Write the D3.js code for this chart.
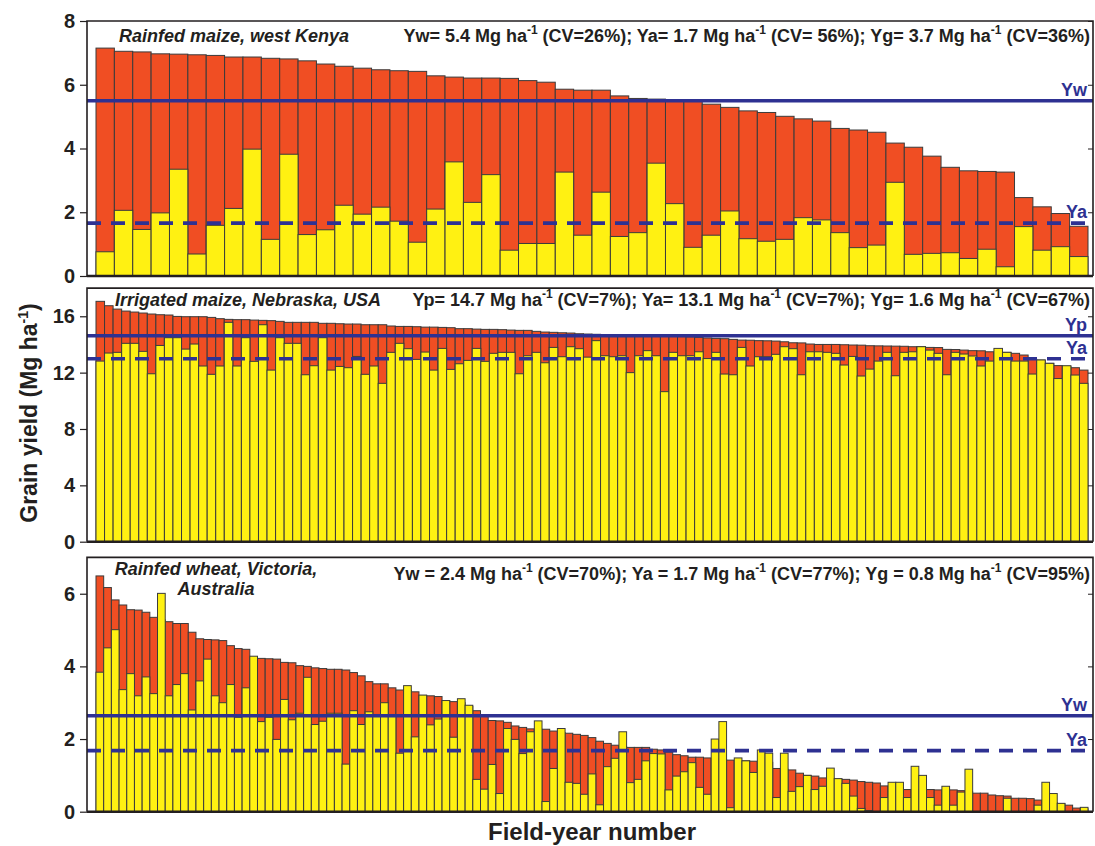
<!DOCTYPE html>
<html>
<head>
<meta charset="utf-8">
<script src="https://cdn.jsdelivr.net/npm/d3@7"></script>
<style>
  html, body { margin: 0; padding: 0; background: #fff; }
  svg text { font-family: "Liberation Sans", Arial, Helvetica, sans-serif; white-space: pre; }
</style>
</head>
<body>
<svg id="chart" width="1095" height="846"></svg>
<script>
// ---------- Rainfed maize, west Kenya ----------
const kenyaYw = [7.15,7.05,7.03,6.97,6.96,6.94,6.92,6.87,6.87,6.83,
  6.81,6.75,6.65,6.58,6.52,6.47,6.44,6.42,6.28,6.24,
  6.21,6.21,6.20,6.13,6.08,5.86,5.83,5.83,5.65,5.57,
  5.55,5.53,5.48,5.39,5.29,5.18,5.13,5.01,4.93,4.86,
  4.63,4.58,4.51,4.17,4.04,3.76,3.41,3.30,3.28,3.26,
  2.46,2.17,1.96,1.56];
const kenyaYa = [0.76,2.06,1.46,1.98,3.35,0.69,1.59,2.12,3.98,1.15,
  3.82,1.30,1.45,2.22,1.94,2.16,1.72,1.06,2.10,3.58,
  2.31,3.18,0.81,1.02,1.02,3.26,1.28,2.63,1.24,1.36,
  3.54,2.27,0.90,1.28,2.04,1.17,1.09,1.15,1.83,1.76,
  1.36,0.89,0.97,2.94,0.68,0.71,0.73,0.55,0.84,0.29,
  1.55,0.81,0.92,0.61];
const kenyaRef = [5.50, 1.66];           // mean Yw (solid), mean Ya (dashed)
const kenyaRefNames = ["Yw", "Ya"];
const kenyaTicks = [0, 2, 4, 6, 8];
const kenyaStats = ["Yw= 5.4 Mg ha", "-1", " (CV=26%); Ya= 1.7 Mg ha", "-1", " (CV= 56%); Yg= 3.7 Mg ha", "-1", " (CV=36%)"];

// ---------- Irrigated maize, Nebraska ----------
const nebraskaYp = [17.06,16.75,16.51,16.37,16.30,16.23,16.16,16.11,16.09,15.99,
  15.97,15.97,15.97,15.92,15.83,15.78,15.76,15.76,15.73,15.71,
  15.69,15.64,15.57,15.57,15.57,15.57,15.50,15.50,15.47,15.45,
  15.45,15.40,15.40,15.40,15.31,15.28,15.28,15.26,15.23,15.23,
  15.21,15.19,15.12,15.12,15.09,15.07,15.07,15.05,15.02,15.00,
  15.00,14.93,14.88,14.86,14.83,14.81,14.76,14.74,14.72,14.70,
  14.69,14.68,14.66,14.65,14.63,14.62,14.60,14.58,14.56,14.54,
  14.50,14.46,14.43,14.41,14.36,14.31,14.30,14.27,14.26,14.24,
  14.19,14.12,14.11,14.03,14.00,14.00,14.00,13.98,13.96,13.95,
  13.91,13.90,13.89,13.88,13.87,13.84,13.84,13.79,13.78,13.65,
  13.64,13.60,13.56,13.55,13.48,13.46,13.44,13.37,13.25,12.94,
  12.89,12.66,12.50,12.45,12.35,12.18];
const nebraskaYa = [12.82,13.39,13.44,14.08,14.08,13.51,11.92,13.93,14.48,14.48,
  13.67,14.03,12.47,11.88,12.47,15.57,12.47,14.48,12.80,15.40,
  12.18,14.48,14.08,14.08,11.85,12.49,14.48,12.18,12.44,12.35,
  13.15,11.88,12.47,11.24,13.44,14.08,13.70,12.94,13.46,12.18,
  13.72,12.23,12.63,12.87,13.72,12.80,13.37,13.44,13.44,11.92,
  13.20,13.44,12.70,13.79,13.13,13.84,13.70,13.10,14.27,13.20,
  13.13,13.20,12.00,13.20,13.56,13.20,10.65,13.44,13.20,13.20,
  13.48,13.00,13.44,11.90,11.85,13.79,12.47,13.13,13.13,13.30,
  13.84,13.70,11.85,13.48,13.48,13.44,13.37,12.54,13.15,11.76,
  12.25,12.82,13.44,11.78,13.44,13.48,13.84,13.60,13.37,11.85,
  13.44,13.32,13.18,12.47,12.82,13.72,13.44,12.82,12.82,11.90,
  12.90,12.66,11.58,12.49,11.83,11.24];
const nebraskaRef = [14.62, 12.99];      // mean Yp (solid), mean Ya (dashed)
const nebraskaRefNames = ["Yp", "Ya"];
const nebraskaTicks = [0, 4, 8, 12, 16];
const nebraskaStats = ["Yp= 14.7 Mg ha", "-1", " (CV=7%); Ya= 13.1 Mg ha", "-1", " (CV=7%); Yg= 1.6 Mg ha", "-1", " (CV=67%)"];

// ---------- Rainfed wheat, Victoria ----------
const victoriaYw = [6.49,6.17,5.83,5.69,5.56,5.55,5.49,5.35,5.28,5.23,
  5.18,5.18,4.94,4.76,4.74,4.73,4.71,4.57,4.49,4.47,
  4.25,4.22,4.21,4.20,4.11,4.10,4.02,4.00,3.96,3.94,
  3.92,3.92,3.90,3.83,3.74,3.58,3.52,3.52,3.41,3.35,
  3.34,3.30,3.20,3.19,3.17,3.05,3.03,3.00,2.90,2.78,
  2.64,2.51,2.50,2.46,2.36,2.32,2.28,2.27,2.27,2.22,
  2.18,2.16,2.13,2.10,2.04,1.94,1.88,1.83,1.80,1.77,
  1.77,1.77,1.72,1.70,1.64,1.57,1.54,1.50,1.50,1.48,
  1.46,1.44,1.42,1.41,1.40,1.39,1.38,1.36,1.19,1.17,
  1.15,1.06,1.00,0.98,0.93,0.92,0.90,0.89,0.87,0.83,
  0.81,0.79,0.71,0.70,0.66,0.61,0.61,0.61,0.61,0.60,
  0.60,0.60,0.58,0.55,0.51,0.51,0.46,0.44,0.43,0.37,
  0.37,0.36,0.32,0.30,0.25,0.22,0.18,0.10,0.08];
const victoriaYa = [3.84,4.51,5.01,3.36,3.80,3.19,3.71,3.25,6.01,3.19,
  3.50,3.80,2.80,3.60,4.20,3.19,3.00,3.50,2.60,3.41,
  4.28,2.48,2.60,1.99,3.09,2.53,2.71,3.70,2.40,2.49,
  2.71,2.71,1.31,2.78,2.40,2.75,2.64,3.00,2.65,1.61,
  3.47,2.06,3.21,2.39,2.55,3.06,2.05,3.11,2.93,0.89,
  0.62,1.30,0.50,2.29,1.99,1.60,2.20,2.50,0.28,1.19,
  2.29,0.81,0.78,0.48,1.04,0.19,1.24,1.47,2.20,0.80,
  0.89,1.40,1.60,1.59,0.60,0.98,1.10,1.35,0.67,0.48,
  2.00,2.48,0.11,1.48,1.40,1.08,1.70,1.61,0.39,1.61,
  0.56,0.69,1.00,0.61,0.70,1.20,0.91,0.78,0.43,0.09,
  0.03,0.00,0.39,0.81,0.81,0.39,1.25,1.00,0.39,0.18,
  0.70,0.18,0.54,1.17,0.00,0.00,0.00,0.00,0.37,0.00,
  0.00,0.00,0.18,0.81,0.50,0.23,0.00,0.00,0.12];
const victoriaRef = [2.64, 1.68];        // mean Yw (solid), mean Ya (dashed)
const victoriaRefNames = ["Yw", "Ya"];
const victoriaTicks = [0, 2, 4, 6];
const victoriaStats = ["Yw = 2.4 Mg ha", "-1", " (CV=70%); Ya = 1.7 Mg ha", "-1", " (CV=77%); Yg = 0.8 Mg ha", "-1", " (CV=95%)"];

// ---------- drawing ----------
const RED = "#F04E23", YELLOW = "#FFF112", BLUE = "#2E3192", INK = "#231F20";
const frameLeft = 87, frameRight = 1093, barLeft = 96, barRight = 1088;

const panels = [
  { upper: kenyaYw, lower: kenyaYa, ref: kenyaRef, refNames: kenyaRefNames, ticks: kenyaTicks, ymax: 8,
    top: 21, bottom: 276, stats: kenyaStats, statsY: 42,
    title: ["Rainfed maize, west Kenya"], titleX: 119, titleY: [42], titleAnchor: "start" },
  { upper: nebraskaYp, lower: nebraskaYa, ref: nebraskaRef, refNames: nebraskaRefNames, ticks: nebraskaTicks, ymax: 18,
    top: 288.1, bottom: 541.7, stats: nebraskaStats, statsY: 306,
    title: ["Irrigated maize, Nebraska, USA"], titleX: 115, titleY: [306], titleAnchor: "start" },
  { upper: victoriaYw, lower: victoriaYa, ref: victoriaRef, refNames: victoriaRefNames, ticks: victoriaTicks, ymax: 7,
    top: 557.4, bottom: 811.7, stats: victoriaStats, statsY: 580,
    title: ["Rainfed wheat, Victoria,", "Australia"], titleX: 216, titleY: [575, 595], titleAnchor: "middle" }
];

const svg = d3.select("#chart");

panels.forEach(p => {
  const g = svg.append("g");
  const n = p.upper.length;
  const x = d3.scaleBand().domain(d3.range(n)).range([barLeft, barRight]).paddingInner(0);
  const y = d3.scaleLinear().domain([0, p.ymax]).range([p.bottom, p.top]);

  // yield-gap bars (red) behind, actual yield bars (yellow) in front
  g.append("g").selectAll("rect").data(p.upper).join("rect")
    .attr("x", (d, i) => x(i)).attr("width", x.bandwidth())
    .attr("y", d => y(d)).attr("height", d => y(0) - y(d))
    .attr("fill", RED).attr("stroke", "#3b3b3b").attr("stroke-width", 1);
  g.append("g").selectAll("rect").data(p.lower).join("rect")
    .attr("display", d => d > 0 ? null : "none")
    .attr("x", (d, i) => x(i)).attr("width", x.bandwidth())
    .attr("y", d => y(d)).attr("height", d => y(0) - y(d))
    .attr("fill", YELLOW).attr("stroke", "#3b3b3b").attr("stroke-width", 1);

  // reference lines
  p.ref.forEach((v, k) => {
    g.append("line")
      .attr("x1", frameLeft).attr("x2", frameRight)
      .attr("y1", y(v)).attr("y2", y(v))
      .attr("stroke", BLUE).attr("stroke-width", 3.6)
      .attr("stroke-dasharray", k === 1 ? "14,10" : null);
    g.append("text")
      .attr("x", 1087).attr("y", y(v) - 5)
      .attr("text-anchor", "end")
      .attr("font-size", 18).attr("font-weight", "bold").attr("fill", BLUE)
      .text(p.refNames[k]);
  });

  // frame
  g.append("path")
    .attr("d", `M${frameLeft},${p.bottom}V${p.top}H${frameRight}V${p.bottom}`)
    .attr("fill", "none").attr("stroke", INK).attr("stroke-width", 1.6);

  // left axis with outward ticks
  const ax = g.append("g").attr("transform", `translate(${frameLeft},0)`)
    .call(d3.axisLeft(y).tickValues(p.ticks).tickSize(7).tickPadding(5).tickFormat(d3.format("d")));
  ax.select(".domain").remove();
  ax.selectAll("line").attr("stroke", INK).attr("stroke-width", 1.2);
  ax.selectAll("text").attr("font-size", 20).attr("font-weight", "bold").attr("fill", INK)
    .style("font-family", "'Liberation Sans', Arial, sans-serif");

  // right axis with inward ticks
  const ar = g.append("g").attr("transform", `translate(${frameRight},0)`)
    .call(d3.axisRight(y).tickValues(p.ticks).tickSize(-5).tickFormat(""));
  ar.select(".domain").remove();
  ar.selectAll("line").attr("stroke", INK).attr("stroke-width", 1);

  // baseline
  g.append("line").attr("x1", frameLeft).attr("x2", frameRight)
    .attr("y1", p.bottom).attr("y2", p.bottom)
    .attr("stroke", INK).attr("stroke-width", 2.6);

  // site title
  p.title.forEach((t, k) => {
    g.append("text").attr("x", p.titleX).attr("y", p.titleY[k])
      .attr("text-anchor", p.titleAnchor)
      .attr("font-size", 18).attr("font-weight", "bold").attr("font-style", "italic").attr("fill", INK)
      .text(t);
  });

  // summary statistics
  const st = g.append("text").attr("x", 1090).attr("y", p.statsY)
    .attr("text-anchor", "end").attr("font-size", 18).attr("font-weight", "bold").attr("fill", INK);
  p.stats.forEach((s, k) => {
    const sup = k % 2 === 1;
    st.append("tspan")
      .attr("font-size", sup ? 12 : 18)
      .attr("dy", sup ? -8 : (k === 0 ? 0 : 8))
      .text(s);
  });
});

// axis titles
const yl = svg.append("text")
  .attr("transform", "translate(37,413) rotate(-90)")
  .attr("text-anchor", "middle").attr("font-size", 23).attr("font-weight", "bold").attr("fill", INK);
yl.append("tspan").text("Grain yield (Mg ha");
yl.append("tspan").attr("font-size", 14).attr("dy", -9).text("-1");
yl.append("tspan").attr("dy", 9).text(")");

svg.append("text")
  .attr("x", 592).attr("y", 840)
  .attr("text-anchor", "middle").attr("font-size", 24).attr("font-weight", "bold").attr("fill", INK)
  .text("Field-year number");
</script>
</body>
</html>
